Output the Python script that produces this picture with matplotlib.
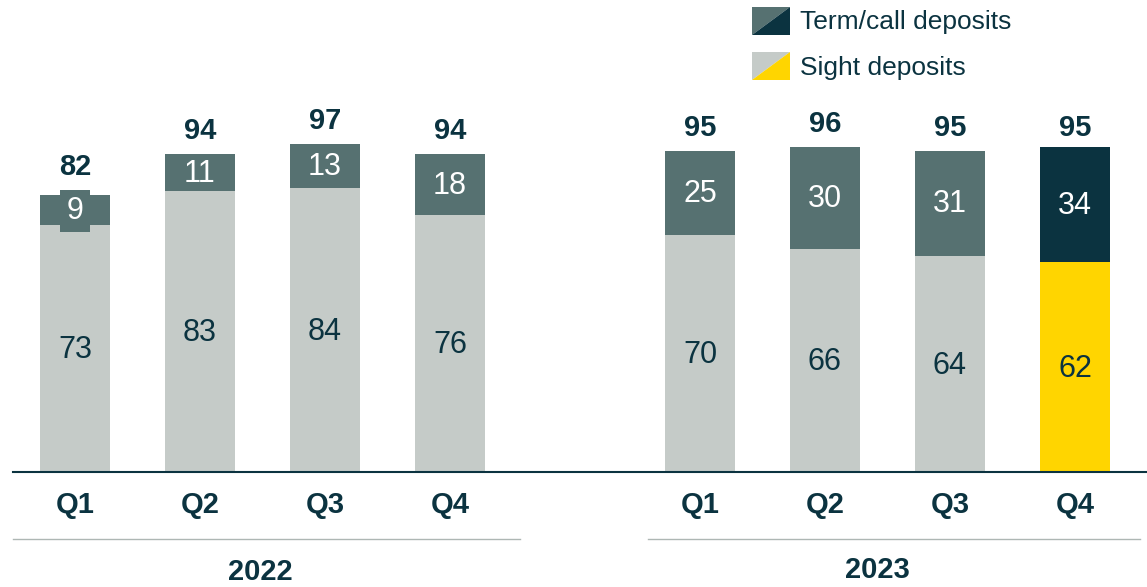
import matplotlib.pyplot as plt
from matplotlib.patches import Polygon
from matplotlib.lines import Line2D

plt.rcParams['font.family'] = ['Liberation Sans', 'DejaVu Sans']

quarters = ['Q1', 'Q2', 'Q3', 'Q4', 'Q1', 'Q2', 'Q3', 'Q4']
positions = [0, 1, 2, 3, 5, 6, 7, 8]
sight = [73, 83, 84, 76, 70, 66, 64, 62]
term = [9, 11, 13, 18, 25, 30, 31, 34]
totals = [82, 94, 97, 94, 95, 96, 95, 95]
years = ['2022', '2023']

dark = '#0B3340'
grey_dark = '#567171'
grey_light = '#C5CBC8'
yellow = '#FFD500'

sight_colors = [grey_light] * 7 + [yellow]
term_colors = [grey_dark] * 7 + [dark]

fig = plt.figure(figsize=(11.47, 5.87), dpi=100)
ax = fig.add_axes([0, 0, 1, 1])
ax.set_xlim(-0.6, 8.576)
ax.set_ylim(-34.0, 139.6)
ax.axis('off')

w = 0.56
ax.bar(positions, sight, width=w, color=sight_colors)
ax.bar(positions, term, width=w, bottom=sight, color=term_colors)

for i, p in enumerate(positions):
    ax.text(p, sight[i] / 2 - 0.5, str(sight[i]), ha='center', va='center',
            fontsize=22, color=dark)
    box = None
    if i == 0:
        # small segment: label sits on a box
        box = dict(boxstyle='square,pad=0.2', fc=grey_dark, ec='none')
    ax.text(p, sight[i] + term[i] / 2 - 0.3, str(term[i]), ha='center', va='center',
            fontsize=22, color='white', bbox=box)
    ax.text(p, totals[i] + (8.3 if i == 0 else 6.8), str(totals[i]),
            ha='center', va='center', fontsize=21, fontweight='bold', color=dark)
    ax.text(p, -9.8, quarters[i], ha='center', va='center', fontsize=21,
            fontweight='bold', color=dark)

# baseline
ax.add_line(Line2D([-0.5, 8.6], [0, 0], color=dark, lw=1.5))
# year separators
ax.add_line(Line2D([-0.5, 3.56], [-19.8, -19.8], color='#AEB7B4', lw=1))
ax.add_line(Line2D([4.58, 8.52], [-19.8, -19.8], color='#AEB7B4', lw=1))
ax.text(1.48, -29.5, years[0], ha='center', va='center', fontsize=21,
        fontweight='bold', color=dark)
ax.text(6.42, -29.0, years[1], ha='center', va='center', fontsize=21,
        fontweight='bold', color=dark)

# legend with split swatches
W, H = 1147, 587
def swatch(x0, y0, c1, c2):
    x1, y1 = x0 + 38, y0 + 28
    tl = [(x0 / W, 1 - y0 / H), (x1 / W, 1 - y0 / H), (x0 / W, 1 - y1 / H)]
    br = [(x1 / W, 1 - y0 / H), (x1 / W, 1 - y1 / H), (x0 / W, 1 - y1 / H)]
    fig.patches.append(Polygon(tl, closed=True, fc=c1, ec='none', transform=fig.transFigure))
    fig.patches.append(Polygon(br, closed=True, fc=c2, ec='none', transform=fig.transFigure))

swatch(752, 7, grey_dark, dark)
swatch(752, 52, grey_light, yellow)
fig.text(800 / W, 1 - 22 / H, 'Term/call deposits', ha='left', va='center',
         fontsize=19, color=dark)
fig.text(800 / W, 1 - 68 / H, 'Sight deposits', ha='left', va='center',
         fontsize=19, color=dark)

fig.savefig('out.png', dpi=100)
